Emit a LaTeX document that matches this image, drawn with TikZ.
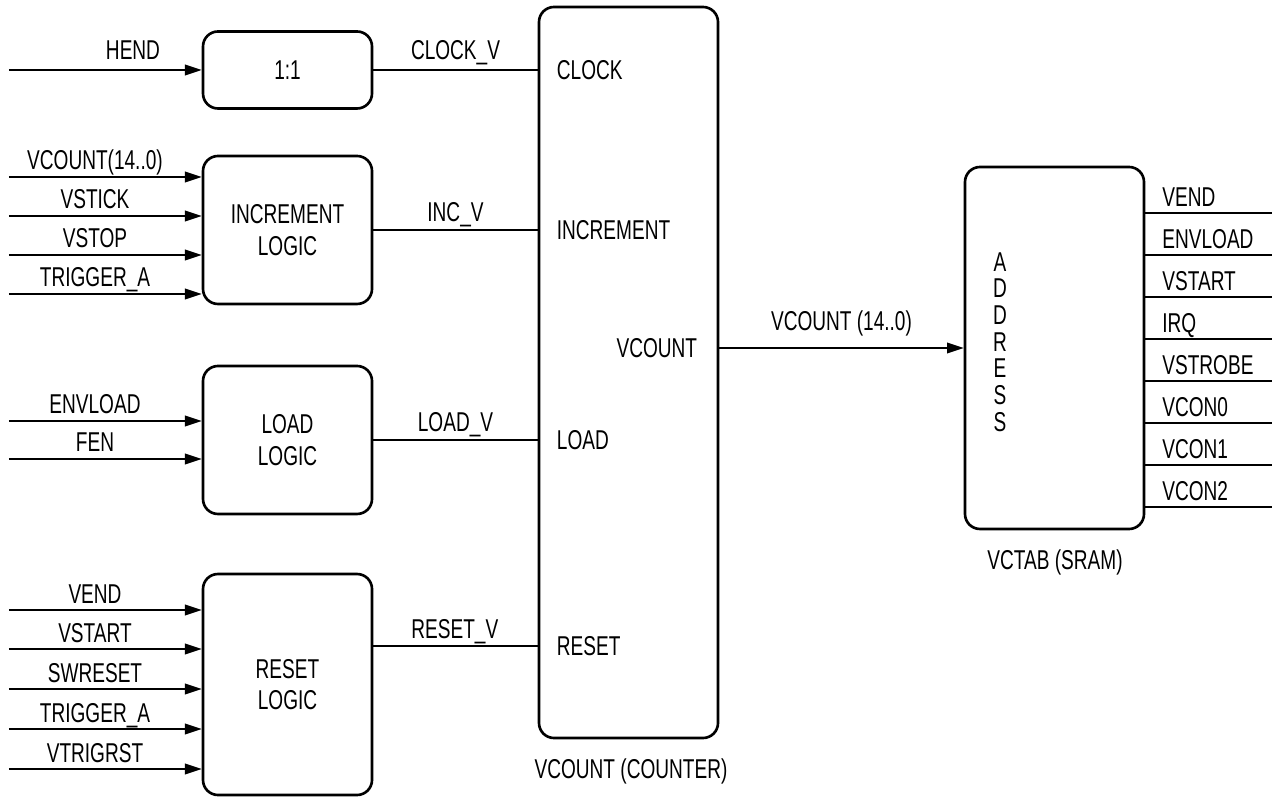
\documentclass[tikz,border=0pt]{standalone}
\usepackage{fontspec}
\setmainfont[FakeStretch=0.7]{Liberation Sans}
\usetikzlibrary{arrows.meta}

\begin{document}
\begin{tikzpicture}[
    blk/.style={draw, line width=1.5pt, rounded corners=0.3cm, align=center, inner sep=0pt, font=\fontsize{15.5}{18}\selectfont},
    sig/.style={line width=1.1pt},
    lbl/.style={anchor=base, inner sep=0pt},
    >={Triangle[length=9.5pt,width=6pt]},
    font=\fontsize{15.5}{15.2}\selectfont
  ]
  \useasboundingbox (0,0) rectangle (25.44,15.96);

  % --- Blokken links ---
  \node[blk, minimum width=3.38cm, minimum height=1.54cm] (div) at (5.75,14.56) {1:1};
  \node[blk, minimum width=3.38cm, minimum height=2.96cm] (inc) at (5.75,11.36) {INCREMENT\\LOGIC};
  \node[blk, minimum width=3.38cm, minimum height=2.96cm] (load) at (5.75,7.16) {LOAD\\LOGIC};
  \node[blk, minimum width=3.38cm, minimum height=4.42cm] (reset) at (5.75,2.27) {RESET\\LOGIC};

  % --- Teller ---
  \node[blk, minimum width=3.58cm, minimum height=14.62cm] (cnt) at (12.57,8.51) {};
  \node[lbl] (capc) at (12.62,0.4) {VCOUNT (COUNTER)};

  % --- Tabel ---
  \node[blk, minimum width=3.58cm, minimum height=7.24cm] (tab) at (21.09,9.00) {};
  \node[align=center] (addr) at (20.0,9.12) {A\\D\\D\\R\\E\\S\\S};
  \node[lbl] (capt) at (21.1,4.58) {VCTAB (SRAM)};

  % Ingangen
  \coordinate (hin) at (0.18,14.56);
  \draw[sig, ->] (hin) -- (div.west);
  \node[lbl] (hinl) at (2.66,14.76) {HEND};

  \foreach \y/\t [count=\i] in {12.42/{VCOUNT(14..0)}, 11.64/VSTICK, 10.86/VSTOP, 10.08/TRIGGER\_A} {
    \coordinate (ii\i) at (0.18,\y);
    \draw[sig, ->] (ii\i) -- (ii\i -| inc.west);
    \node[lbl] (iil\i) at (1.9,\y+0.14) {\t};
  }
  \foreach \y/\t [count=\i] in {7.54/ENVLOAD, 6.78/FEN} {
    \coordinate (li\i) at (0.18,\y);
    \draw[sig, ->] (li\i) -- (li\i -| load.west);
    \node[lbl] (lil\i) at (1.9,\y+0.14) {\t};
  }
  \foreach \y/\t [count=\i] in {3.76/VEND, 2.98/VSTART, 2.18/SWRESET, 1.38/TRIGGER\_A, 0.58/VTRIGRST} {
    \coordinate (ri\i) at (0.18,\y);
    \draw[sig, ->] (ri\i) -- (ri\i -| reset.west);
    \node[lbl] (ril\i) at (1.9,\y+0.14) {\t};
  }

  % Verbindingen naar de teller
  \draw[sig] (div.east) -- (div.east -| cnt.west) node[lbl, midway, yshift=0.2cm] (lclk) {CLOCK\_V};
  \draw[sig] (inc.east) -- (inc.east -| cnt.west) node[lbl, midway, yshift=0.16cm] (linc) {INC\_V};
  \draw[sig] (load.east) -- (load.east -| cnt.west) node[lbl, midway, yshift=0.16cm] (lld) {LOAD\_V};
  \coordinate (rvo) at (7.44,3.04);
  \draw[sig] (rvo) -- (rvo -| cnt.west) node[lbl, midway, yshift=0.16cm] (lrs) {RESET\_V};

  % Poorten van de teller
  \node[anchor=west] (pclk) at ([xshift=0.26cm]cnt.west |- div.east) {CLOCK};
  \node[anchor=west] (pinc) at ([xshift=0.26cm]cnt.west |- inc.east) {INCREMENT};
  \node[anchor=west] (pld) at ([xshift=0.26cm]cnt.west |- load.east) {LOAD};
  \node[anchor=west] (prs) at ([xshift=0.26cm]cnt.west |- rvo) {RESET};
  \node[anchor=east] (pvc) at ([xshift=-0.32cm]cnt.east |- tab.west) {VCOUNT};

  % Adres naar de tabel
  \draw[sig, ->] (cnt.east |- tab.west) -- (tab.west) node[lbl, midway, yshift=0.34cm] (ladr) {VCOUNT (14..0)};

  % Uitgangen
  \foreach \t [count=\i] in {VEND, ENVLOAD, VSTART, IRQ, VSTROBE, VCON0, VCON1, VCON2} {
    \coordinate (vo\i) at (25.44,11.70-0.84*\i+0.84);
    \draw[sig] (vo\i -| tab.east) -- (vo\i);
    \node[anchor=base west, inner sep=0pt] (vol\i) at (23.24,11.82-0.84*\i+0.84) {\t};
  }
\end{tikzpicture}
\end{document}
